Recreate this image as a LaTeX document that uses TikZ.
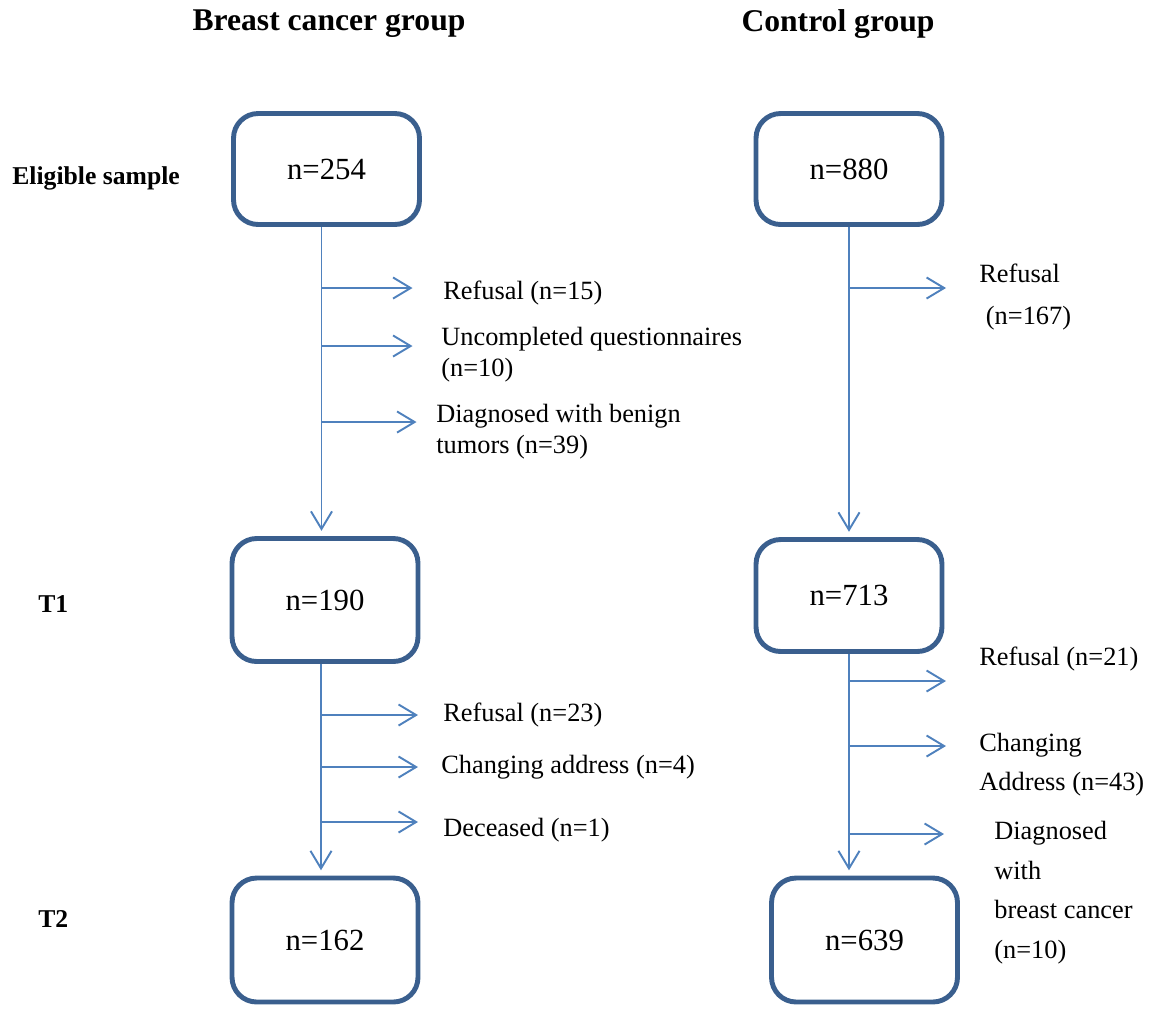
\documentclass[tikz,border=0pt]{standalone}
\usepackage{fontspec}
\setmainfont{Liberation Serif}
\usetikzlibrary{arrows.meta}
\definecolor{boxblue}{HTML}{3A5F8E}
\definecolor{lineblue}{HTML}{4F81BD}
\begin{document}
\begin{tikzpicture}[x=0.02cm,y=-0.02cm,
    stage/.style={draw=boxblue,line width=2.8pt,rounded corners=14pt,minimum width=3.72cm,minimum height=2.22cm,font=\fontsize{17.5}{21}\selectfont},
    flow/.style={draw=lineblue,line width=1.1pt,-{Straight Barb[length=10pt,width=12pt]}},
    note/.style={anchor=west,inner sep=0pt,align=left,font=\fontsize{15}{17.6}\selectfont},
    grouptitle/.style={font=\fontsize{18}{22}\selectfont\bfseries},
    rowlabel/.style={anchor=west,inner sep=0pt,font=\fontsize{14.6}{17}\selectfont\bfseries}]
    \useasboundingbox (0,0) rectangle (1151,1008);

    \node[grouptitle] (bctitle) at (329,24) {Breast cancer group};
    \node[grouptitle] (cgtitle) at (838,24) {Control group};

    \node[rowlabel] (eligible) at (12,178) {Eligible sample};
    \node[rowlabel] (tone) at (38,604) {T1};
    \node[rowlabel] (ttwo) at (38,919) {T2};

    \node[stage] (bc1) at (326.5,169) {n=254};
    \node[stage] (cg1) at (849,169) {n=880};
    \node[stage,minimum height=2.46cm] (bc2) at (325,600) {n=190};
    \node[stage,minimum height=2.24cm] (cg2) at (849,595.5) {n=713};
    \node[stage,minimum height=2.48cm] (bc3) at (325,940) {n=162};
    \node[stage,minimum height=2.48cm] (cg3) at (864.5,940) {n=639};

    \coordinate (bcline1) at ([xshift=-0.1cm]bc1.south);
    \coordinate (bcline2) at ([xshift=-0.08cm]bc2.south);

    \draw[flow,shorten >=3pt] (bcline1) -- (bcline1 |- bc2.north);
    \draw[flow,shorten >=3pt] (cg1.south) -- (cg1.south |- cg2.north);
    \draw[flow,shorten >=3pt] (bcline2) -- (bcline2 |- bc3.north);
    \draw[flow,shorten >=3pt] (cg2.south) -- (cg2.south |- cg3.north);

    \draw[flow] (bcline1 |- 0,288) -- ++(91,0);
    \node[note] (rf15) at (443,293) {Refusal (n=15)};
    \draw[flow] (bcline1 |- 0,346) -- ++(91,0);
    \node[note] (uq10) at (441,355) {Uncompleted questionnaires\\(n=10)};
    \draw[flow] (bcline1 |- 0,422) -- ++(95,0);
    \node[note] (bt39) at (436,432) {Diagnosed with benign\\tumors (n=39)};

    \draw[flow] (cg1.south |- 0,288) -- ++(97,0);
    \node[note] (rf167) at (979,297) {Refusal\\[6.8pt]\hspace*{0.25em}(n=167)};

    \draw[flow] (bcline2 |- 0,715) -- ++(97,0);
    \node[note] (rf23) at (443,715) {Refusal (n=23)};
    \draw[flow] (bcline2 |- 0,767) -- ++(97,0);
    \node[note] (ca4) at (441,767) {Changing address (n=4)};
    \draw[flow] (bcline2 |- 0,822) -- ++(97,0);
    \node[note] (dc1) at (443,830) {Deceased (n=1)};

    \draw[flow] (cg2.south |- 0,681) -- ++(97,0);
    \node[note] (rf21) at (979,659) {Refusal (n=21)};
    \draw[flow] (cg2.south |- 0,746) -- ++(97,0);
    \node[note] (ca43) at (979,764.5) {Changing\\[4.5pt]Address (n=43)};
    \draw[flow] (cg2.south |- 0,834) -- ++(95,0);
    \node[note] (bc10) at (994,892.5) {Diagnosed\\[5pt]with\\[5pt]breast cancer\\[5pt](n=10)};
\end{tikzpicture}
\end{document}
